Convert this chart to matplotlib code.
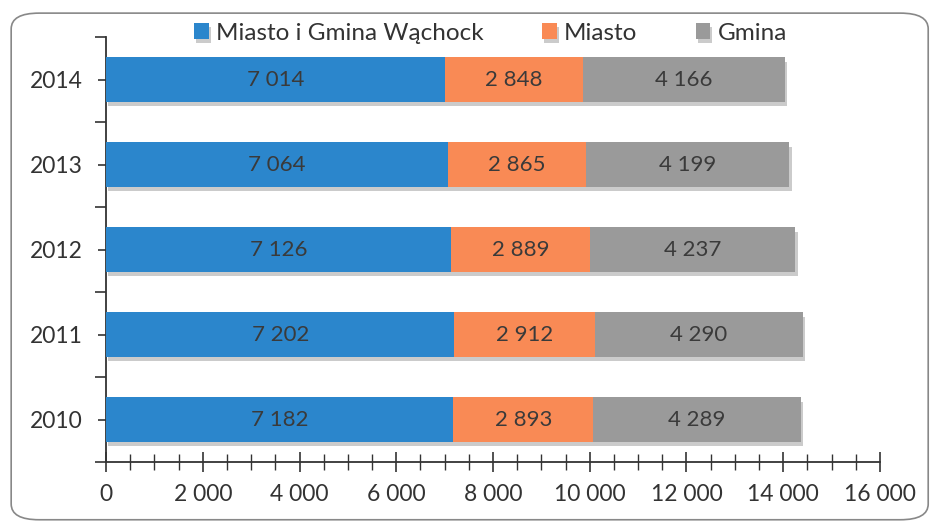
import matplotlib
matplotlib.use("Agg")
import matplotlib.pyplot as plt
import matplotlib.patheffects as pe
from matplotlib.patches import FancyBboxPatch
from matplotlib.ticker import MultipleLocator, FuncFormatter
import numpy as np

years = ["2010", "2011", "2012", "2013", "2014"]
series_names = ["Miasto i Gmina Wąchock", "Miasto", "Gmina"]
total = [7182, 7202, 7126, 7064, 7014]
miasto = [2893, 2912, 2889, 2865, 2848]
gmina = [4289, 4290, 4237, 4199, 4166]
colors = ["#2b86cc", "#f98a55", "#9a9a9a"]

plt.rcParams['font.family'] = ['Lato', 'DejaVu Sans']

fig = plt.figure(figsize=(9.31, 5.25), dpi=100)
fig.patch.set_facecolor("white")
border = FancyBboxPatch((0.012, 0.01), 0.985, 0.965, boxstyle="round,pad=0,rounding_size=0.03",
                        transform=fig.transFigure, facecolor="none", edgecolor="#888888", lw=1.2)
fig.patches.append(border)

ax = fig.add_axes([0.1139, 0.12, 0.8313, 0.8095])
y = np.arange(len(years))
data = [total, miasto, gmina]
left = np.zeros(len(years))
shadow = [pe.SimplePatchShadow(offset=(1.5, -3), shadow_rgbFace="#999999", alpha=0.5), pe.Normal()]
for name, vals, c in zip(series_names, data, colors):
    bars = ax.barh(y, vals, left=left, height=0.52, color=c, label=name, zorder=3)
    for b in bars:
        b.set_path_effects(shadow)
    ax.bar_label(bars, labels=[f"{v:,}".replace(",", " ") for v in vals], label_type="center",
                 fontsize=16, color="#3a3a3a", zorder=4)
    left = left + np.array(vals)

ax.set_xlim(0, 16000)
ax.set_ylim(-0.5, len(years) - 0.5)
ax.set_yticks(y)
ax.set_yticklabels(years)
ax.set_yticks(np.arange(-0.5, len(years), 1.0), minor=True)
ax.xaxis.set_major_locator(MultipleLocator(2000))
ax.xaxis.set_minor_locator(MultipleLocator(500))
ax.xaxis.set_major_formatter(FuncFormatter(lambda v, p: f"{int(v):,}".replace(",", " ")))

for s in ["top", "right"]:
    ax.spines[s].set_visible(False)
for s in ["left", "bottom"]:
    ax.spines[s].set_color("#333333")
    ax.spines[s].set_linewidth(1.3)

ax.tick_params(axis="x", which="major", direction="inout", length=14, width=1.2, color="#333333",
               labelsize=16.5, labelcolor="#333333", pad=9)
ax.tick_params(axis="x", which="minor", direction="inout", length=12, width=1.0, color="#333333")
ax.tick_params(axis="y", which="major", direction="inout", length=12, width=1.2, color="#333333",
               labelsize=16.5, labelcolor="#333333", pad=11)
ax.tick_params(axis="y", which="minor", direction="out", length=8, width=1.2, color="#333333")

leg = fig.legend(loc="center", bbox_to_anchor=(0.527, 0.937), ncol=3, frameon=False, fontsize=17.5,
                 handlelength=0.6, handleheight=0.6, handletextpad=0.3, columnspacing=2.4,
                 labelcolor="#333333")

fig.savefig("out.png", dpi=100)
